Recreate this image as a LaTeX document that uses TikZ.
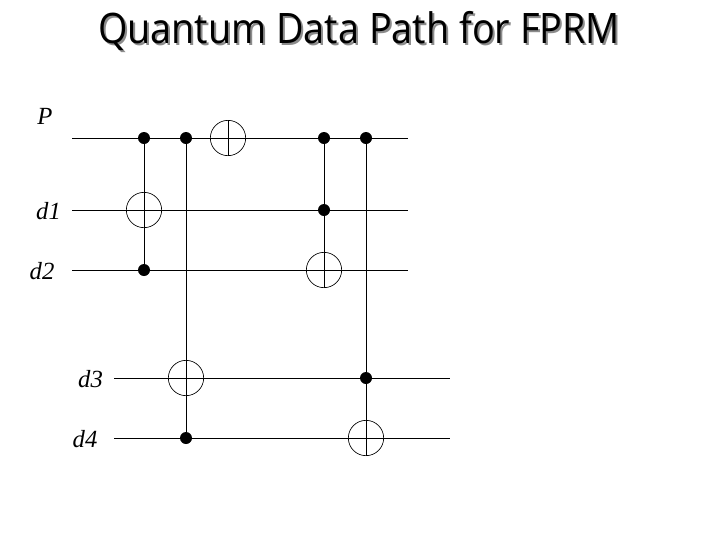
\documentclass[tikz,border=0pt]{standalone}
\usepackage{fontspec}
\setmainfont{Liberation Serif}
\newfontfamily\titlefont[FakeStretch=0.9]{Open Sans}
\tikzset{
  x=0.75pt,y=-0.75pt,
  wire/.style={draw=black,line width=0.75pt},
  ctrl/.style={circle,fill=black,inner sep=0pt,minimum size=9pt},
  xorgate/.style={circle,draw=black,line width=0.5pt,fill=none,inner sep=0pt,minimum size=26.5pt},
  lab/.style={font=\itshape\fontsize{18.5pt}{20pt}\selectfont,inner sep=0pt},
  ttl/.style={font=\titlefont\fontsize{31.5pt}{36pt}\selectfont,inner sep=0pt}
}
\begin{document}
\begin{tikzpicture}
\useasboundingbox (0,0) rectangle (720,540);
\fill[white] (0,0) rectangle (720,540);
\node[ttl,text=black!45] at (361,32.5) {Quantum Data Path for FPRM};
\node[ttl,text=black] (title) at (359,30.5) {Quantum Data Path for FPRM};
\node[lab] (lp) at (45,116) {P};
\node[lab] (l1) at (48.5,211) {d1};
\node[lab] (l2) at (42,271) {d2};
\node[lab] (l3) at (90.5,379) {d3};
\node[lab] (l4) at (85,439) {d4};
\coordinate (ps) at (72,138); \coordinate (pe) at (408,138);
\coordinate (as) at (72,210); \coordinate (ae) at (408,210);
\coordinate (bs) at (72,270); \coordinate (be) at (408,270);
\coordinate (cs) at (114,378); \coordinate (ce) at (450,378);
\coordinate (ds) at (114,438); \coordinate (de) at (450,438);
\draw[wire] (ps) -- (pe);
\draw[wire] (as) -- (ae);
\draw[wire] (bs) -- (be);
\draw[wire] (cs) -- (ce);
\draw[wire] (ds) -- (de);
\node[ctrl] (c1) at (144,138) {};
\node[xorgate] (x1) at (144,210) {};
\node[ctrl] (c2) at (144,270) {};
\node[ctrl] (c3) at (186,138) {};
\node[xorgate] (x3) at (186,378) {};
\node[ctrl] (c4) at (186,438) {};
\node[xorgate] (x4) at (228,138) {};
\node[ctrl] (c5) at (324,138) {};
\node[ctrl] (c6) at (324,210) {};
\node[xorgate] (x5) at (324,270) {};
\node[ctrl] (c7) at (366,138) {};
\node[ctrl] (c8) at (366,378) {};
\node[xorgate] (x6) at (366,438) {};
\draw[wire] (c1.center) -- (c2.center);
\draw[wire] (c3.center) -- (c4.center);
\draw[wire] (x4.north) -- (x4.south);
\draw[wire] (c5.center) -- (x5.south);
\draw[wire] (c7.center) -- (x6.south);
\end{tikzpicture}
\end{document}
